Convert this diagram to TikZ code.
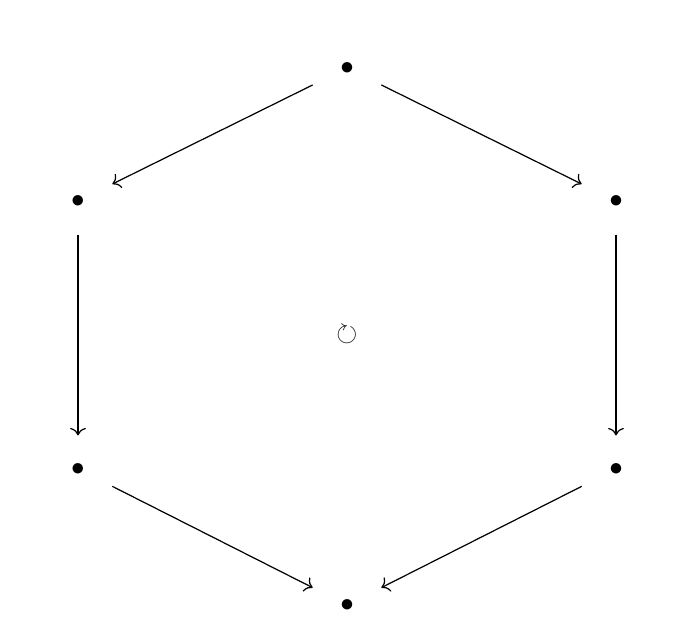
\documentclass[tikz,border=0pt]{standalone}
\usepackage{amssymb}
\usetikzlibrary{cd}
\tikzset{vertex/.style={minimum width=25pt, minimum height=24.4pt, inner sep=0pt},
  arr/.style={-cm to, line width=0.45pt}}
\begin{document}
\begin{tikzpicture}[x=0.37pt, y=-0.37pt]
    \useasboundingbox (0,0) rectangle (675,633);

      % vertices of the hexagon
      \node [vertex] (T) at (347,68) {$\bullet$};
      \node [vertex] (L) at (78,201) {$\bullet$};
      \node [vertex] (R) at (616,201) {$\bullet$};
      \node [vertex] (LL) at (78,469) {$\bullet$};
      \node [vertex] (RR) at (616,469) {$\bullet$};
      \node [vertex] (B) at (347,605) {$\bullet$};

      % draw arrows
      \draw [arr] (T) -- (L);
      \draw [arr] (T) -- (R);
      \draw [arr] (L) -- (LL);
      \draw [arr] (R) -- (RR);
      \draw [arr] (LL) -- (B);
      \draw [arr] (RR) -- (B);

      % add label
      \node (O) at (347,335) {$\circlearrowright$};
\end{tikzpicture}
\end{document}
